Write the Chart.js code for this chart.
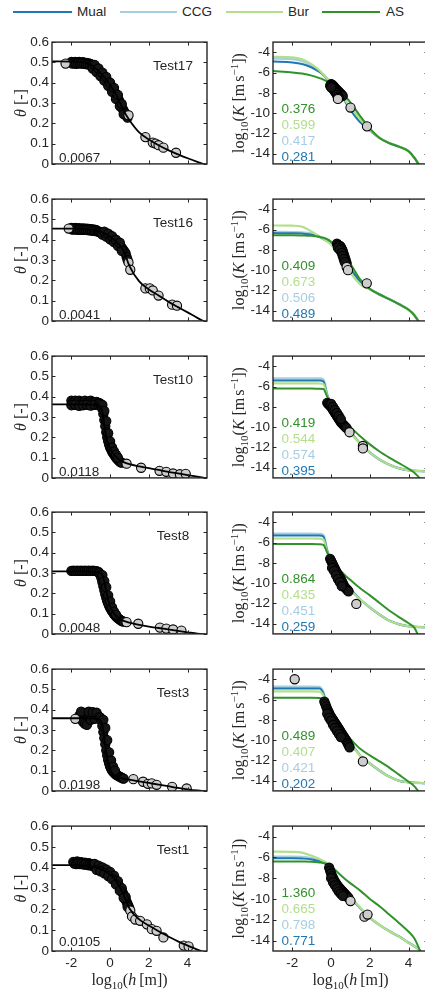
<!DOCTYPE html>
<html lang="en">
<head>
<meta charset="UTF-8">
<title>Retention and conductivity fits</title>
<script src="https://cdn.jsdelivr.net/npm/chart.js"></script>
<style>
  html, body {
    margin: 0;
    padding: 0;
    background: #fff;
    width: 425px;
    height: 993px;
    overflow: hidden;
  }
  body { position: relative; font-family: "Liberation Sans", Arial, sans-serif; }
  .ln { position: absolute; top: 11px; height: 2px; }
  .tx { position: absolute; top: 4px; font-size: 13.5px; line-height: 16px; color: #262626; }
  canvas { position: absolute; }
</style>
</head>
<body>
  <div class="legenda">
    <span class="ln" style="left:13px;width:59px;background:#1f78b4"></span><span class="tx" style="left:77px">Mual</span>
    <span class="ln" style="left:120px;width:57px;background:#a6cee3"></span><span class="tx" style="left:182px">CCG</span>
    <span class="ln" style="left:226px;width:57px;background:#b2df8a"></span><span class="tx" style="left:288px">Bur</span>
    <span class="ln" style="left:322px;width:58px;background:#2f9329"></span><span class="tx" style="left:386px">AS</span>
  </div>

<script>
// ---- dados ----
const nomesTeste = ['Test17', 'Test16', 'Test10', 'Test8', 'Test3', 'Test1'];
const rmseTheta = ['0.0067', '0.0041', '0.0118', '0.0048', '0.0198', '0.0105'];
// ordem: AS, Bur, CCG, Mual
const statsK = [
  ['0.376', '0.599', '0.417', '0.281'],
  ['0.409', '0.673', '0.506', '0.489'],
  ['0.419', '0.544', '0.574', '0.395'],
  ['0.864', '0.435', '0.451', '0.259'],
  ['0.489', '0.407', '0.421', '0.202'],
  ['1.360', '0.665', '0.798', '0.771']
];

const xTicks = [-2, 0, 2, 4];
const thetaTicks = [0, 0.1, 0.2, 0.3, 0.4, 0.5, 0.6];
const kTicks = [-14, -12, -10, -8, -6, -4];

// curvas de retencao ajustadas
const hTheta = [-3, -2, -1.5, -1, -0.6, -0.4, -0.2, 0, 0.2, 0.4, 0.7, 1, 1.5, 2, 2.5, 3, 3.5, 4, 4.5, 5];
const theta17 = [0.505, 0.504, 0.501, 0.49, 0.457, 0.437, 0.415, 0.388, 0.36, 0.324, 0.262, 0.215, 0.155, 0.12, 0.092, 0.068, 0.047, 0.028, 0.01, -0.007];
const theta16 = [0.455, 0.455, 0.454, 0.451, 0.443, 0.436, 0.427, 0.415, 0.4, 0.382, 0.345, 0.27, 0.195, 0.155, 0.125, 0.095, 0.068, 0.042, 0.015, -0.01];
const theta10 = [0.362, 0.362, 0.362, 0.361, 0.359, 0.325, 0.2, 0.145, 0.115, 0.095, 0.078, 0.068, 0.057, 0.048, 0.039, 0.03, 0.022, 0.014, 0.006, -0.002];
const theta8 = [0.308, 0.308, 0.308, 0.307, 0.302, 0.29, 0.21, 0.135, 0.1, 0.08, 0.064, 0.055, 0.045, 0.036, 0.029, 0.022, 0.015, 0.008, 0.001, -0.005];
const theta3 = [0.358, 0.358, 0.358, 0.357, 0.354, 0.325, 0.19, 0.105, 0.078, 0.068, 0.06, 0.055, 0.047, 0.039, 0.031, 0.023, 0.015, 0.008, 0.002, -0.003];
const theta1 = [0.413, 0.413, 0.411, 0.407, 0.398, 0.39, 0.38, 0.367, 0.35, 0.323, 0.27, 0.204, 0.152, 0.122, 0.095, 0.07, 0.046, 0.026, 0.007, -0.01];

// medidas de theta: trechos densos (hXX/thXX) e medidas soltas (hXXs/thXXs)
const h17 = [-2.0, -1.9, -1.8, -1.7, -1.6, -1.5, -1.4, -1.3, -1.2, -1.1, -1.0,
  -1.95, -1.85, -1.75, -1.65, -1.55, -1.45, -1.35, -1.25, -1.15, -1.05,
  -0.95, -0.9, -0.85, -0.8, -0.75, -0.7, -0.65, -0.6, -0.55, -0.5, -0.45, -0.4, -0.35, -0.3, -0.25, -0.2, -0.15, -0.1, -0.05,
  0, 0.05, 0.1, 0.15, 0.2, 0.25, 0.3, 0.35, 0.4, 0.45, 0.5, 0.55, 0.6, 0.65, 0.7, 0.75, 0.8, 0.85, 0.9,
  -0.9, -0.7, -0.5, -0.3, -0.1, 0.1, 0.3, 0.5, 0.7,
  -0.8, -0.6, -0.4, -0.2, 0, 0.2, 0.4, 0.6];
const th17 = [0.502, 0.5, 0.503, 0.5, 0.502, 0.499, 0.501, 0.498, 0.497, 0.495, 0.492,
  0.494, 0.495, 0.493, 0.496, 0.494, 0.495, 0.493, 0.492, 0.49, 0.488,
  0.486, 0.482, 0.479, 0.475, 0.47, 0.466, 0.462, 0.457, 0.453, 0.448, 0.443, 0.437, 0.432, 0.426, 0.42, 0.415, 0.409, 0.402, 0.395,
  0.388, 0.381, 0.374, 0.367, 0.36, 0.351, 0.342, 0.333, 0.324, 0.315, 0.303, 0.292, 0.28, 0.271, 0.262, 0.253, 0.244, 0.236, 0.228,
  0.47, 0.452, 0.432, 0.41, 0.385, 0.355, 0.32, 0.285, 0.245,
  0.488, 0.47, 0.45, 0.428, 0.40, 0.375, 0.34, 0.295];
const h17s = [-2.3, 0.95, 1.82, 2.2, 2.35, 2.5, 2.75, 3.4];
const th17s = [0.494, 0.24, 0.132, 0.105, 0.10, 0.092, 0.08, 0.055];

const h16 = [-2.0, -1.9, -1.8, -1.7, -1.6, -1.5, -1.4, -1.3, -1.2, -1.1, -1.0, -0.9, -0.8, -0.7,
  -1.95, -1.85, -1.75, -1.65, -1.55, -1.45, -1.35, -1.25, -1.15, -1.05, -0.95, -0.85, -0.75,
  -0.65, -0.6, -0.55, -0.5, -0.45, -0.4, -0.35, -0.3, -0.25, -0.2, -0.15, -0.1, -0.05, 0, 0.05,
  0.1, 0.15, 0.2, 0.25, 0.3, 0.35, 0.4, 0.45, 0.5, 0.55, 0.6, 0.65, 0.7, 0.75, 0.8,
  -0.4, -0.2, 0, 0.2, 0.4, 0.6,
  -0.3, -0.1, 0.1, 0.3, 0.5,
  0.85, 0.9];
const th16 = [0.458, 0.457, 0.458, 0.456, 0.457, 0.455, 0.456, 0.454, 0.455, 0.453, 0.452, 0.451, 0.449, 0.447,
  0.45, 0.451, 0.45, 0.449, 0.45, 0.449, 0.448, 0.448, 0.447, 0.446, 0.445, 0.444, 0.442,
  0.441, 0.44, 0.438, 0.437, 0.435, 0.434, 0.432, 0.43, 0.428, 0.425, 0.422, 0.42, 0.417, 0.415, 0.411,
  0.407, 0.403, 0.399, 0.395, 0.39, 0.386, 0.382, 0.378, 0.372, 0.366, 0.36, 0.353, 0.346, 0.34, 0.332,
  0.425, 0.415, 0.402, 0.388, 0.37, 0.345,
  0.44, 0.43, 0.418, 0.40, 0.385,
  0.315, 0.30];
const h16s = [-2.14, 0.95, 1.04, 1.82, 2.05, 2.2, 2.5, 3.2, 3.45];
const th16s = [0.455, 0.288, 0.252, 0.16, 0.16, 0.15, 0.125, 0.08, 0.075];

const h10 = [-2.0, -1.9, -1.8, -1.7, -1.6, -1.5, -1.4, -1.3, -1.2, -1.1, -1.0, -0.9, -0.8, -0.7, -0.6,
  -2.0, -1.8, -1.6, -1.4, -1.2, -1.0, -0.8, -0.6,
  -0.55, -0.5, -0.45, -0.4, -0.35, -0.3, -0.25, -0.2, -0.15, -0.1, -0.05, 0, 0.05, 0.1, 0.15, 0.2, 0.25, 0.3, 0.35, 0.4, 0.45, 0.5, 0.55, 0.6,
  -0.4, -0.3, -0.2, -0.1, 0, 0.1, 0.2, 0.3, 0.4];
const th10 = [0.38, 0.375, 0.38, 0.375, 0.38, 0.375, 0.372, 0.38, 0.37, 0.376, 0.38, 0.375, 0.372, 0.375, 0.37,
  0.358, 0.36, 0.355, 0.358, 0.36, 0.356, 0.36, 0.358,
  0.368, 0.365, 0.355, 0.34, 0.315, 0.285, 0.255, 0.225, 0.2, 0.18, 0.163, 0.15, 0.14, 0.13, 0.122, 0.115, 0.108, 0.10, 0.095, 0.09, 0.085, 0.08, 0.077, 0.075,
  0.36, 0.33, 0.28, 0.22, 0.18, 0.15, 0.13, 0.115, 0.10];
const h10s = [0.85, 1.6, 2.55, 2.9, 3.25, 3.6, 3.9];
const th10s = [0.07, 0.05, 0.035, 0.03, 0.022, 0.018, 0.02];

const h8 = [-2.0, -1.9, -1.8, -1.7, -1.6, -1.5, -1.4, -1.3, -1.2, -1.1, -1.0, -0.9, -0.8, -0.7, -0.6,
  -0.55, -0.5, -0.45, -0.4, -0.35, -0.3, -0.25, -0.2, -0.15, -0.1, -0.05, 0, 0.05, 0.1, 0.15, 0.2, 0.25, 0.3, 0.35, 0.4,
  0.45, 0.5, 0.55, 0.6, 0.65, 0.7,
  -0.4, -0.3, -0.2, -0.1, 0, 0.1, 0.2, 0.3];
const th8 = [0.31, 0.312, 0.31, 0.311, 0.31, 0.312, 0.31, 0.311, 0.31, 0.312, 0.31, 0.311, 0.31, 0.309, 0.305,
  0.298, 0.29, 0.275, 0.255, 0.235, 0.215, 0.195, 0.178, 0.162, 0.15, 0.138, 0.128, 0.12, 0.112, 0.105, 0.098, 0.092, 0.087, 0.082, 0.078,
  0.074, 0.07, 0.067, 0.064, 0.062, 0.06,
  0.29, 0.26, 0.23, 0.19, 0.16, 0.13, 0.11, 0.095];
const h8s = [0.85, 1.45, 2.57, 2.9, 3.25, 3.68];
const th8s = [0.058, 0.05, 0.031, 0.026, 0.022, 0.016];

const h3 = [-1.6, -1.5, -1.4, -1.3, -1.2, -1.1, -1.0, -0.9, -0.8, -0.7, -0.6,
  -1.4, -1.3, -1.2, -1.0, -0.8, -1.5, -1.1, -0.9, -0.7,
  -0.55, -0.5, -0.45, -0.4, -0.35, -0.3, -0.25, -0.2, -0.15, -0.1, -0.05, 0, 0.05, 0.1, 0.15, 0.2, 0.25, 0.3, 0.35, 0.4,
  0.45, 0.5, 0.55, 0.6, 0.65, 0.7,
  -0.35, -0.25, -0.15, -0.05, 0.05, 0.15, 0.25];
const th3 = [0.37, 0.38, 0.385, 0.38, 0.385, 0.37, 0.375, 0.38, 0.37, 0.375, 0.365,
  0.34, 0.33, 0.325, 0.35, 0.355, 0.39, 0.39, 0.388, 0.385,
  0.365, 0.36, 0.345, 0.32, 0.29, 0.26, 0.23, 0.20, 0.175, 0.152, 0.135, 0.12, 0.11, 0.10, 0.095, 0.09, 0.085, 0.08, 0.078, 0.075,
  0.072, 0.07, 0.067, 0.065, 0.062, 0.06,
  0.35, 0.31, 0.25, 0.19, 0.15, 0.12, 0.10];
const h3s = [-1.8, 1.2, 1.7, 1.95, 2.15, 2.4, 3.2, 3.95];
const th3s = [0.355, 0.058, 0.045, 0.035, 0.037, 0.03, 0.02, 0.012];

const h1 = [-1.9, -1.8, -1.7, -1.6, -1.5, -1.4, -1.3, -1.2, -1.1, -1.0,
  -1.85, -1.75, -1.65, -1.55, -1.45, -1.35, -1.25, -1.15, -1.05,
  -0.95, -0.9, -0.85, -0.8, -0.75, -0.7, -0.65, -0.6, -0.55, -0.5, -0.45, -0.4, -0.35, -0.3, -0.25, -0.2, -0.15, -0.1, -0.05, 0,
  0.05, 0.1, 0.15, 0.2, 0.25, 0.3, 0.35, 0.4, 0.45, 0.5, 0.55, 0.6, 0.65, 0.7, 0.75, 0.8, 0.85, 0.9, 0.95, 1.0,
  -0.8, -0.6, -0.4, -0.2, 0, 0.2, 0.4, 0.6, 0.8,
  -0.7, -0.5, -0.3, -0.1, 0.1, 0.3, 0.5, 0.7, 0.9];
const th1 = [0.428, 0.425, 0.43, 0.424, 0.427, 0.423, 0.425, 0.42, 0.422, 0.418,
  0.42, 0.418, 0.421, 0.417, 0.419, 0.415, 0.416, 0.413, 0.412,
  0.411, 0.409, 0.407, 0.406, 0.404, 0.402, 0.4, 0.399, 0.397, 0.395, 0.393, 0.39, 0.388, 0.385, 0.383, 0.38, 0.377, 0.374, 0.371, 0.367,
  0.363, 0.359, 0.355, 0.35, 0.343, 0.337, 0.33, 0.323, 0.315, 0.306, 0.298, 0.29, 0.28, 0.27, 0.258, 0.247, 0.236, 0.226, 0.215, 0.204,
  0.418, 0.41, 0.402, 0.392, 0.38, 0.362, 0.336, 0.302, 0.26,
  0.39, 0.383, 0.373, 0.36, 0.345, 0.32, 0.29, 0.255, 0.212];
const h1s = [1.04, 1.13, 1.3, 1.55, 1.9, 2.15, 2.4, 2.75, 3.8, 4.05];
const th1s = [0.194, 0.166, 0.151, 0.145, 0.128, 0.105, 0.097, 0.065, 0.026, 0.022];

// curvas de condutividade (log10 K) dos quatro modelos
const hK = [-3, -2, -1.5, -1, -0.6, -0.4, -0.2, 0, 0.2, 0.4, 0.7, 1, 1.5, 2, 2.5, 3, 3.5, 4, 4.3, 4.6, 5];
const as17 = [-5.85, -6.0, -6.1, -6.3, -6.55, -6.7, -6.9, -7.1, -7.4, -7.7, -8.3, -8.95, -10.3, -11.5, -12.45, -12.95, -13.3, -13.75, -14.4, -15.3, -16.5];
const bur17 = [-4.45, -4.5, -4.7, -5.2, -5.8, -6.2, -6.6, -7.05, -7.5, -7.95, -8.7, -9.4, -10.6, -11.6, -12.45, -12.95, -13.3, -13.75, -14.4, -15.3, -16.5];
const ccg17 = [-4.6, -4.65, -4.85, -5.3, -5.85, -6.2, -6.6, -7.05, -7.5, -7.95, -8.7, -9.45, -10.65, -11.6, -12.45, -12.95, -13.3, -13.75, -14.4, -15.3, -16.5];
const mual17 = [-4.92, -5.0, -5.15, -5.5, -5.95, -6.25, -6.65, -7.05, -7.55, -8.0, -8.8, -9.7, -10.9, -11.7, -12.45, -12.95, -13.3, -13.75, -14.4, -15.3, -16.5];

const as16 = [-6.55, -6.56, -6.58, -6.62, -6.72, -6.8, -6.95, -7.2, -7.6, -8.05, -8.7, -9.4, -10.9, -11.85, -12.4, -12.85, -13.35, -13.9, -14.45, -15.3, -16.5];
const bur16 = [-5.6, -5.62, -5.72, -6.2, -6.7, -6.95, -7.2, -7.5, -7.95, -8.6, -9.5, -10.3, -11.4, -11.9, -12.4, -12.85, -13.35, -13.9, -14.45, -15.3, -16.5];
const ccg16 = [-6.25, -6.27, -6.3, -6.4, -6.7, -6.9, -7.1, -7.35, -7.8, -8.3, -9.1, -9.85, -11.1, -11.85, -12.4, -12.85, -13.35, -13.9, -14.45, -15.3, -16.5];
const mual16 = [-6.35, -6.37, -6.4, -6.5, -6.75, -6.95, -7.15, -7.4, -7.85, -8.35, -9.15, -9.9, -11.1, -11.85, -12.4, -12.85, -13.35, -13.9, -14.45, -15.3, -16.5];

const as10 = [-6.2, -6.2, -6.2, -6.2, -6.22, -6.25, -7.0, -7.6, -7.9, -8.5, -9.45, -10.0, -10.9, -11.7, -12.4, -13.0, -13.55, -14.1, -14.5, -15.1, -16.5];
const bur10 = [-5.68, -5.68, -5.68, -5.68, -5.7, -5.75, -6.9, -7.7, -8.4, -9.0, -9.9, -10.6, -11.6, -12.5, -13.2, -13.7, -14.05, -14.25, -14.3, -14.33, -14.36];
const ccg10 = [-5.2, -5.2, -5.2, -5.2, -5.21, -5.3, -6.8, -7.7, -8.3, -8.85, -9.7, -10.5, -11.6, -12.5, -13.2, -13.7, -14.05, -14.25, -14.3, -14.33, -14.36];
const mual10 = [-5.4, -5.4, -5.4, -5.4, -5.41, -5.48, -6.85, -7.7, -8.3, -8.85, -9.7, -10.5, -11.6, -12.5, -13.2, -13.7, -14.05, -14.25, -14.3, -14.33, -14.36];

const as8 = [-6.15, -6.15, -6.15, -6.15, -6.16, -6.22, -7.0, -7.7, -8.2, -8.6, -9.2, -9.7, -10.5, -11.2, -11.95, -12.7, -13.35, -13.95, -14.4, -15.6, -17];
const bur8 = [-5.6, -5.6, -5.6, -5.6, -5.61, -5.7, -6.95, -7.75, -8.6, -9.3, -10.0, -10.7, -11.6, -12.4, -13.1, -13.7, -14.05, -14.25, -14.3, -14.33, -14.36];
const ccg8 = [-5.15, -5.15, -5.15, -5.15, -5.16, -5.25, -6.8, -7.7, -8.5, -9.1, -9.9, -10.6, -11.6, -12.4, -13.1, -13.7, -14.05, -14.25, -14.3, -14.33, -14.36];
const mual8 = [-5.3, -5.3, -5.3, -5.3, -5.31, -5.4, -6.85, -7.7, -8.5, -9.1, -9.9, -10.6, -11.6, -12.4, -13.1, -13.7, -14.05, -14.25, -14.3, -14.33, -14.36];

const as3 = [-5.83, -5.83, -5.83, -5.83, -5.85, -6.1, -7.0, -7.7, -8.2, -8.7, -9.3, -9.9, -10.85, -11.5, -12.1, -12.7, -13.4, -14.1, -14.55, -15.3, -16.5];
const bur3 = [-5.2, -5.2, -5.2, -5.2, -5.22, -5.6, -6.85, -7.6, -8.3, -8.9, -9.7, -10.4, -11.5, -12.3, -13.0, -13.6, -14.0, -14.15, -14.2, -14.22, -14.25];
const ccg3 = [-4.75, -4.75, -4.75, -4.75, -4.77, -5.3, -6.7, -7.5, -8.2, -8.8, -9.6, -10.3, -11.5, -12.3, -13.0, -13.6, -14.0, -14.15, -14.2, -14.22, -14.25];
const mual3 = [-4.9, -4.9, -4.9, -4.9, -4.92, -5.4, -6.75, -7.5, -8.2, -8.8, -9.6, -10.3, -11.5, -12.3, -13.0, -13.6, -14.0, -14.15, -14.2, -14.22, -14.25];

const as1 = [-6.4, -6.4, -6.41, -6.43, -6.5, -6.55, -6.65, -6.85, -7.2, -7.55, -8.05, -8.5, -9.2, -10.0, -10.7, -11.5, -12.3, -13.15, -13.8, -15.0, -16.5];
const bur1 = [-5.45, -5.47, -5.55, -5.85, -6.15, -6.35, -6.6, -6.95, -7.55, -8.2, -9.0, -9.8, -10.85, -11.8, -12.5, -13.1, -13.6, -14.2, -14.55, -15.0, -16.5];
const ccg1 = [-5.95, -5.95, -5.97, -6.08, -6.28, -6.42, -6.62, -6.95, -7.55, -8.2, -9.0, -9.8, -10.85, -11.8, -12.5, -13.1, -13.6, -14.2, -14.55, -15.0, -16.5];
const mual1 = [-6.1, -6.1, -6.12, -6.2, -6.38, -6.52, -6.72, -7.0, -7.6, -8.25, -9.05, -9.85, -10.9, -11.8, -12.5, -13.1, -13.6, -14.2, -14.55, -15.0, -16.5];

// medidas de K: trechos densos e medidas soltas
const hk17 = [0, 0.05, 0.1, 0.15, 0.2, 0.25, 0.3, 0.35, 0.4, 0.45, 0.5, 0.55, 0.6,
  -0.05, 0.05, 0.1, 0.15, 0.2, 0.25, 0.3, 0.35, 0.4, 0.0];
const k17 = [-7.15, -7.2, -7.3, -7.4, -7.5, -7.6, -7.7, -7.8, -7.9, -8.0, -8.1, -8.2, -8.3,
  -7.3, -7.5, -7.6, -7.75, -7.9, -8.0, -8.2, -8.4, -8.5, -7.45];
const hk17s = [0.35, 1.0, 1.85];
const k17s = [-8.6, -9.45, -11.3];

const hk16 = [0.3, 0.35, 0.4, 0.45, 0.5, 0.55, 0.6, 0.65, 0.7, 0.75, 0.8,
  0.35, 0.45, 0.55, 0.6, 0.65, 0.7];
const k16 = [-7.4, -7.5, -7.55, -7.6, -7.7, -7.9, -8.1, -8.4, -8.7, -9.0, -9.3,
  -7.8, -8.0, -8.3, -8.6, -8.9, -9.2];
const hk16s = [0.8, 0.87, 1.84];
const k16s = [-9.7, -10.0, -11.3];

const hk10 = [-0.2, -0.15, -0.1, -0.05, 0, 0.05, 0.1, 0.15, 0.2, 0.25, 0.3, 0.35, 0.4, 0.45, 0.5, 0.55, 0.6, 0.65, 0.7, 0.75, 0.8,
  0, 0.1, 0.2, 0.3, 0.4, 0.5];
const k10 = [-7.6, -7.7, -7.8, -7.9, -8.0, -8.15, -8.3, -8.45, -8.6, -8.75, -8.9, -9.05, -9.2, -9.35, -9.5, -9.6, -9.7, -9.8, -9.9, -10.0, -10.1,
  -7.7, -8.0, -8.3, -8.6, -8.9, -9.2];
const hk10s = [0.95, 1.64, 1.64];
const k10s = [-10.5, -11.85, -12.1];

const hk8 = [-0.05, 0, 0.05, 0.1, 0.15, 0.2, 0.25, 0.3, 0.35, 0.4, 0.45, 0.5, 0.55, 0.6, 0.65, 0.7, 0.75, 0.8, 0.85, 0.9,
  0.05, 0.15, 0.25, 0.35, 0.45, 0.55];
const k8 = [-7.6, -7.8, -8.0, -8.2, -8.4, -8.6, -8.8, -9.0, -9.15, -9.3, -9.45, -9.6, -9.8, -10.0, -10.2, -10.4, -10.5, -10.6, -10.7, -10.8,
  -8.5, -8.8, -9.2, -9.6, -9.9, -10.3];
const hk8s = [1.3];
const k8s = [-12.05];

const hk3 = [-0.35, -0.3, -0.25, -0.2, -0.15, -0.1, -0.05, 0, 0.05, 0.1, 0.15, 0.2, 0.25, 0.3, 0.35, 0.4, 0.45, 0.5,
  0.55, 0.6, 0.65, 0.7, 0.75, 0.8, 0.85, 0.9, 0.95,
  -0.2, -0.1, 0, 0.1, 0.2, 0.3, 0.4, 0.5];
const k3 = [-6.2, -6.45, -6.7, -6.95, -7.15, -7.35, -7.55, -7.7, -7.85, -8.0, -8.15, -8.3, -8.45, -8.6, -8.75, -8.9, -9.05, -9.2,
  -9.35, -9.5, -9.65, -9.8, -9.95, -10.1, -10.3, -10.5, -10.7,
  -7.4, -7.8, -8.1, -8.5, -8.8, -9.1, -9.4, -9.7];
const hk3s = [-1.88, 1.64];
const k3s = [-4.0, -12.1];

const hk1 = [-0.1, -0.05, 0, 0.05, 0.1, 0.15, 0.2, 0.25, 0.3, 0.35, 0.4, 0.45, 0.5, 0.55, 0.6, 0.65, 0.7, 0.75, 0.8, 0.85, 0.9,
  0, 0.1, 0.2, 0.3, 0.4, 0.5, 0.6];
const k1 = [-7.0, -7.3, -7.55, -7.8, -8.0, -8.2, -8.35, -8.5, -8.65, -8.8, -8.9, -9.0, -9.1, -9.2, -9.3, -9.4, -9.5, -9.6, -9.7, -9.8, -9.9,
  -8.0, -8.4, -8.7, -9.0, -9.3, -9.5, -9.7];
const hk1s = [1.0, 1.72, 1.88];
const k1s = [-10.2, -11.7, -11.5];

// ---- estilo ----
const corMual = '#1f78b4', corCCG = '#a6cee3', corBur = '#b2df8a', corAS = '#2f9329';
const corEixo = '#262626';
const sans = '"Liberation Sans", Arial, sans-serif';
const serif = '"Liberation Serif", "Times New Roman", serif';
const fonteTxt = '13.5px ' + sans;

const linhas = [
  { thFit: theta17, hP: h17, thP: th17, hS: h17s, thS: th17s, as: as17, bur: bur17, ccg: ccg17, mual: mual17, hKP: hk17, kP: k17, hKS: hk17s, kS: k17s },
  { thFit: theta16, hP: h16, thP: th16, hS: h16s, thS: th16s, as: as16, bur: bur16, ccg: ccg16, mual: mual16, hKP: hk16, kP: k16, hKS: hk16s, kS: k16s },
  { thFit: theta10, hP: h10, thP: th10, hS: h10s, thS: th10s, as: as10, bur: bur10, ccg: ccg10, mual: mual10, hKP: hk10, kP: k10, hKS: hk10s, kS: k10s },
  { thFit: theta8, hP: h8, thP: th8, hS: h8s, thS: th8s, as: as8, bur: bur8, ccg: ccg8, mual: mual8, hKP: hk8, kP: k8, hKS: hk8s, kS: k8s },
  { thFit: theta3, hP: h3, thP: th3, hS: h3s, thS: th3s, as: as3, bur: bur3, ccg: ccg3, mual: mual3, hKP: hk3, kP: k3, hKS: hk3s, kS: k3s },
  { thFit: theta1, hP: h1, thP: th1, hS: h1s, thS: th1s, as: as1, bur: bur1, ccg: ccg1, mual: mual1, hKP: hk1, kP: k1, hKS: hk1s, kS: k1s }
];

const pares = (xs, ys) => xs.map((v, i) => ({ x: v, y: ys[i] }));

// moldura e ticks para dentro, estilo matlab
const moldura = {
  id: 'moldura',
  afterDatasetsDraw(chart) {
    const { ctx, chartArea: a, scales: { x, y } } = chart;
    const tl = 3.5;
    ctx.save();
    ctx.strokeStyle = corEixo;
    ctx.lineWidth = 1;
    ctx.beginPath();
    x.ticks.forEach(t => {
      const px = Math.round(x.getPixelForValue(t.value)) + 0.5;
      ctx.moveTo(px, a.bottom); ctx.lineTo(px, a.bottom - tl);
      ctx.moveTo(px, a.top); ctx.lineTo(px, a.top + tl);
    });
    y.ticks.forEach(t => {
      const py = Math.round(y.getPixelForValue(t.value)) + 0.5;
      ctx.moveTo(a.left, py); ctx.lineTo(a.left + tl, py);
      ctx.moveTo(a.right, py); ctx.lineTo(a.right - tl, py);
    });
    ctx.stroke();
    ctx.lineWidth = 1.4;
    ctx.strokeRect(a.left, a.top, a.right - a.left, a.bottom - a.top);
    ctx.restore();
  }
};

function desenhaRuns(ctx, runs, cx, cy, girar) {
  ctx.save();
  ctx.translate(cx, cy);
  if (girar) ctx.rotate(-Math.PI / 2);
  let total = 0;
  runs.forEach(r => { ctx.font = r.f; r.w = ctx.measureText(r.t).width; total += r.w + (r.gap || 0); });
  let px = -total / 2;
  ctx.fillStyle = corEixo;
  ctx.textAlign = 'left';
  ctx.textBaseline = 'alphabetic';
  runs.forEach(r => {
    ctx.font = r.f;
    ctx.fillText(r.t, px, 5 + (r.dy || 0));
    px += r.w + (r.gap || 0);
  });
  ctx.restore();
}

const N = '16px ' + serif, I = 'italic 16px ' + serif, S = '11px ' + serif;
const runsTheta = [{ t: 'θ', f: I, gap: 4 }, { t: '[-]', f: N }];
const runsK = [{ t: 'log', f: N }, { t: '10', f: S, dy: 4 }, { t: '(', f: N }, { t: 'K', f: I, gap: 4 },
  { t: '[m', f: N, gap: 2 }, { t: 's', f: N }, { t: '−1', f: S, dy: -6 }, { t: '])', f: N }];
const runsH = [{ t: 'log', f: N }, { t: '10', f: S, dy: 4 }, { t: '(', f: N }, { t: 'h', f: I, gap: 3 }, { t: '[m])', f: N }];

function textos(itens, tituloY, dxTitulo, comX) {
  return {
    id: 'textos',
    afterDraw(chart) {
      const { ctx, chartArea: a } = chart;
      ctx.save();
      ctx.textBaseline = 'middle';
      itens.forEach(it => {
        ctx.font = fonteTxt;
        ctx.fillStyle = it.cor;
        ctx.textAlign = it.align;
        ctx.fillText(it.t, a.left + it.dx, a.top + it.dy);
      });
      ctx.restore();
      desenhaRuns(ctx, tituloY, a.left - dxTitulo, (a.top + a.bottom) / 2, true);
      if (comX) desenhaRuns(ctx, runsH, (a.left + a.right) / 2, a.bottom + 29, false);
    }
  };
}

function escalas(yMin, yMax, yTicks, padL, padB, mostraX) {
  const fonte = { family: sans, size: 13.5 };
  return {
    x: {
      type: 'linear', min: -3, max: 5,
      afterBuildTicks: s => { s.ticks = xTicks.map(v => ({ value: v })); },
      afterFit: s => { s.height = padB; },
      ticks: { display: mostraX, color: corEixo, font: fonte, padding: 4, autoSkip: false, maxRotation: 0 },
      grid: { display: false, drawTicks: false },
      border: { display: false }
    },
    y: {
      type: 'linear', min: yMin, max: yMax,
      afterBuildTicks: s => { s.ticks = yTicks.map(v => ({ value: v })); },
      afterFit: s => { s.width = padL; },
      ticks: { color: corEixo, font: fonte, padding: 3, autoSkip: false },
      grid: { display: false, drawTicks: false },
      border: { display: false }
    }
  };
}

function criaCanvas(left, top, w, h) {
  const c = document.createElement('canvas');
  c.width = w; c.height = h;
  c.style.left = left + 'px';
  c.style.top = top + 'px';
  document.body.appendChild(c);
  return c;
}

const plotW = 155, plotH = 130, padT = 6, padR = 8;
// circulos amontoados formam uma faixa preta; os soltos ficam cinza claro
const pontosDensos = {
  showLine: false, pointRadius: 4.6, pointBorderWidth: 1.1,
  pointBackgroundColor: '#151515', pointBorderColor: '#000'
};
const pontosSoltos = {
  showLine: false, pointRadius: 4.6, pointBorderWidth: 1.1,
  pointBackgroundColor: '#cdcdcd', pointBorderColor: '#000'
};
const curva = (dados, cor, larg) => ({
  data: dados, showLine: true, borderColor: cor, borderWidth: larg, pointRadius: 0,
  cubicInterpolationMode: 'monotone', fill: false
});

linhas.forEach((r, i) => {
  const topo = Math.round(37 + 156.8 * i);
  const ultimo = i === linhas.length - 1;
  const padB = ultimo ? 42 : 8;
  const alt = padT + plotH + padB;

  // painel esquerdo: theta
  const padLE = 52;
  new Chart(criaCanvas(0, topo - padT, padLE + plotW + padR, alt), {
    type: 'scatter',
    data: {
      datasets: [
        curva(pares(hTheta, r.thFit), '#000', 1.8),
        Object.assign({ data: pares(r.hS, r.thS) }, pontosSoltos),
        Object.assign({ data: pares(r.hP, r.thP) }, pontosDensos)
      ]
    },
    options: {
      responsive: false, animation: false, events: [],
      layout: { padding: { left: 0, top: padT, right: padR, bottom: 0 }, autoPadding: false },
      plugins: { legend: { display: false }, tooltip: { enabled: false } },
      scales: escalas(0, 0.6, thetaTicks, padLE, padB, ultimo)
    },
    plugins: [moldura, textos([
      { t: nomesTeste[i], cor: corEixo, align: 'center', dx: 121, dy: 24.5 },
      { t: rmseTheta[i], cor: corEixo, align: 'left', dx: 7, dy: 116.5 }
    ], runsTheta, 31, ultimo)]
  });

  // painel direito: log10 K
  const padLD = 50;
  const cores = [corAS, corBur, corCCG, corMual];
  const ys = [67, 83, 99, 115];
  new Chart(criaCanvas(223, topo - padT, padLD + plotW + padR, alt), {
    type: 'scatter',
    data: {
      datasets: [
        Object.assign({ data: pares(r.hKS, r.kS) }, pontosSoltos),
        Object.assign({ data: pares(r.hKP, r.kP) }, pontosDensos),
        curva(pares(hK, r.as), corAS, 2),
        curva(pares(hK, r.bur), corBur, 2.2),
        curva(pares(hK, r.mual), corMual, 2),
        curva(pares(hK, r.ccg), corCCG, 2.6)
      ]
    },
    options: {
      responsive: false, animation: false, events: [],
      layout: { padding: { left: 0, top: padT, right: padR, bottom: 0 }, autoPadding: false },
      plugins: { legend: { display: false }, tooltip: { enabled: false } },
      scales: escalas(-15, -3, kTicks, padLD, padB, ultimo)
    },
    plugins: [moldura, textos(statsK[i].map((t, j) => ({ t: t, cor: cores[j], align: 'left', dx: 8.5, dy: ys[j] })),
      runsK, 34, ultimo)]
  });
});
</script>
</body>
</html>
